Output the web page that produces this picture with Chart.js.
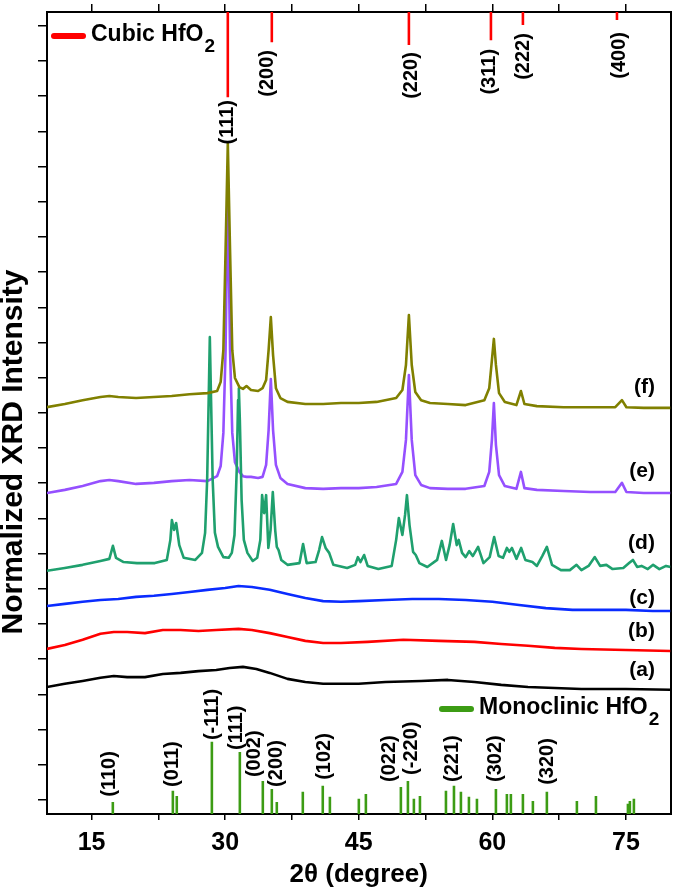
<!DOCTYPE html>
<html>
<head>
<meta charset="utf-8">
<script src="https://cdn.jsdelivr.net/npm/chart.js@4.4.1/dist/chart.umd.min.js"></script>
<style>
  html, body { margin: 0; padding: 0; background: #fff; }
  #wrap { width: 675px; height: 890px; position: relative; }
</style>
</head>
<body>
<div id="wrap"><canvas id="myChart"></canvas></div>
<script>
// 2-theta positions, intensities in tick units (normalized + offset)
var scanX_ef = [10,12,14,16,17,18,20,22,24,26, 28,29.1,29.5,29.8,30.05,30.3,30.55,30.8,31.1,31.6,
  32.0,32.4,32.9,33.7,34.2,34.6,34.88,35.13,35.38,35.7, 36.2,37,39,41,43,45,47,49.2,49.9,50.3,
  50.63,50.95,51.35,52.0,53,55,57,59.1,59.65,59.95, 60.17,60.4,60.75,61.4,62.7,63.21,63.6,65,68,71,
  73.8,74.55,75.05,77,80];
var intF = [11.16,11.25,11.36,11.45,11.48,11.45,11.42,11.45,11.48,11.53,
  11.56,11.62,11.88,12.78,15.63,18.66,15.63,12.78,11.99,11.73,
  11.68,11.76,11.65,11.62,11.70,11.93,12.78,13.72,12.64,11.70,
  11.42,11.31,11.25,11.25,11.28,11.28,11.31,11.42,11.65,12.36,
  13.78,12.36,11.59,11.36,11.28,11.25,11.22,11.36,11.70,12.50,
  13.10,12.36,11.56,11.31,11.22,11.62,11.25,11.19,11.16,11.16,
  11.16,11.36,11.16,11.14,11.14];
var intE = [8.72,8.81,8.92,9.06,9.09,9.06,8.98,9.01,9.06,9.09,
  9.06,9.20,9.49,10.43,12.78,17.56,12.78,10.43,9.60,9.32,
  9.20,9.18,9.18,9.15,9.18,9.52,10.51,11.96,10.51,9.52,
  9.15,8.98,8.86,8.84,8.86,8.86,8.89,8.98,9.32,10.23,
  12.07,10.23,9.23,8.95,8.86,8.84,8.84,8.92,9.32,10.23,
  11.28,10.09,9.23,8.92,8.84,9.32,8.86,8.81,8.78,8.75,
  8.75,9.01,8.75,8.72,8.72];

var scanX_d = [10,12,14,16,17.0,17.4,17.75,18.6,20.1,22.1,
  23.45,23.85,24.02,24.27,24.5,24.85,25.35,26.65,27.4,27.75,
  27.98,28.15,28.28,28.42,28.6,28.85,29.2,29.8,30.4,30.75,
  31.05,31.3,31.45,31.54,31.65,31.85,32.1,32.5,33.1,33.6,
  33.95,34.15,34.38,34.6,34.85,35.1,35.35,35.62,35.8,36.0,
  36.3,37.0,38.35,38.75,39.15,40.15,40.55,40.88,41.28,41.68,
  42.15,43.7,44.6,44.9,45.2,45.6,46.0,47.2,48.7,49.2,
  49.5,49.9,50.2,50.41,50.7,51.1,51.4,51.8,52.7,53.8,
  54.33,54.8,55.2,55.6,56.0,56.22,56.6,57.0,57.4,57.8,
  58.4,59.0,59.7,60.2,60.7,61.2,61.63,61.9,62.2,62.7,
  63.23,63.7,64.5,65.0,65.6,66.12,66.7,67.7,68.7,69.45,
  70.0,70.8,71.5,72.1,72.8,73.5,74.7,75.35,75.78,76.25,
  76.75,77.45,78.05,78.75,79.5,80];
var intD = [6.51,6.59,6.68,6.79,6.85,7.22,6.88,6.76,6.73,6.73,
  6.82,7.39,7.95,7.67,7.87,7.24,6.88,6.82,7.02,7.59,
  9.09,11.36,13.15,11.36,9.09,7.59,7.19,6.90,6.88,7.02,
  7.53,9.38,11.36,11.70,10.80,8.52,7.39,7.02,6.79,6.88,
  7.39,8.66,8.15,8.66,7.16,7.67,8.75,7.67,7.19,7.10,
  6.82,6.68,6.73,7.27,6.73,6.76,7.10,7.47,7.16,7.02,
  6.68,6.59,6.68,6.90,6.76,6.96,6.65,6.56,6.65,7.39,
  8.01,7.53,8.10,8.66,7.81,7.05,6.96,6.73,6.62,6.82,
  7.36,6.82,7.24,7.84,7.24,7.39,7.02,6.90,7.07,6.93,
  7.19,6.73,6.90,7.47,6.93,6.88,7.16,7.05,7.16,6.85,
  7.16,6.82,6.76,6.65,6.93,7.19,6.68,6.53,6.53,6.68,
  6.53,6.65,6.90,6.65,6.68,6.56,6.59,6.73,6.82,6.62,
  6.65,6.56,6.68,6.56,6.65,6.62];

var scanX_c = [10,12,14,16,18,20,22,24,26,28,30,31.5,33,35,37,39,41,43,45,48,51,54,57,60,63,66,69,72,75,78,80];
var intC = [5.51,5.57,5.63,5.68,5.71,5.77,5.80,5.85,5.91,5.97,6.02,6.08,6.05,5.97,5.85,5.74,5.65,5.63,5.65,5.68,5.71,5.71,5.68,5.63,5.54,5.45,5.40,5.40,5.40,5.37,5.37];

var scanX_b = [10,12,14,16,17.5,19,21,23,25,27,29,31.5,33,35,37,39,41,43,46,50,54,58,61,64,67,70,75,80];
var intB = [4.29,4.40,4.55,4.72,4.77,4.77,4.74,4.83,4.83,4.80,4.83,4.86,4.83,4.74,4.63,4.52,4.46,4.46,4.49,4.55,4.52,4.49,4.43,4.38,4.32,4.29,4.26,4.23];

var scanX_a = [10,12,14,16,17.5,19,21,23,25,27,29,30.5,32,33.5,35,37,39,41,43,45,48,52,55,58,61,64,67,70,75,80];
var intA = [3.21,3.30,3.38,3.47,3.52,3.49,3.49,3.58,3.61,3.66,3.69,3.75,3.78,3.72,3.61,3.44,3.35,3.30,3.30,3.30,3.35,3.38,3.41,3.35,3.27,3.21,3.18,3.15,3.15,3.13];

var sampleNames = ['(a)','(b)','(c)','(d)','(e)','(f)'];
var sampleLabelY = [3.69,4.80,5.74,7.30,9.35,11.73];

// reference patterns
var monoPos = [17.39,24.13,24.57,28.51,31.65,34.23,35.24,35.80,38.72,40.96,41.76,45.01,45.80,49.73,50.52,51.19,51.87,
  54.79,55.69,56.47,57.37,58.27,60.40,61.63,62.08,63.43,64.55,66.12,69.49,71.63,75.22,75.44,75.89];
var monoTop = [-0.06,0.26,0.11,1.65,1.36,0.54,0.31,-0.06,0.23,0.40,0.09,0.03,0.17,0.37,0.54,0.03,0.11,
  0.26,0.40,0.23,0.09,0.03,0.31,0.17,0.17,0.17,-0.03,0.23,-0.03,0.11,-0.11,-0.03,0.03];
var monoHkl = ['(110)','(011)','(-111)','(111)','(002)','(200)','(102)','(022)','(-220)','(221)','(302)','(320)'];
var monoHklX = [17.05,24.13,28.62,31.31,33.34,35.81,41.20,48.50,50.97,55.57,60.40,66.23];
var monoHklY = [0.09,0.37,1.70,1.42,0.65,0.37,0.57,0.51,0.71,0.51,0.51,0.43];

var cubicPos = [30.30,35.24,50.63,59.84,63.43,73.99];
var cubicEnd = [19.97,21.53,21.45,21.59,22.02,22.16];
var cubicHkl = ['(111)','(200)','(220)','(311)','(222)','(400)'];
var cubicHklX = [30.30,34.79,50.97,59.73,63.55,74.22];
var cubicHklY = [19.89,21.31,21.25,21.34,21.79,21.82];

var Y_MIN = -0.4, Y_MAX = 22.39;
var FONT = '"Liberation Sans", Arial, sans-serif';

function pts(xs, ys) {
  return xs.map(function (x, i) { return { x: x, y: ys[i] }; });
}
function sticks(pos, from, to) {
  var out = [];
  pos.forEach(function (p, i) {
    out.push({ x: p, y: Array.isArray(from) ? from[i] : from });
    out.push({ x: p, y: Array.isArray(to) ? to[i] : to });
    out.push({ x: p, y: null });
  });
  return out;
}
function trace(name, xs, ys, color, order) {
  return {
    label: name, data: pts(xs, ys), borderColor: color, borderWidth: 2.6,
    pointRadius: 0, tension: 0, fill: false, order: order, borderJoinStyle: 'round'
  };
}

var textPlugin = {
  id: 'xrdText',
  afterDatasetsDraw: function (chart) {
    var ctx = chart.ctx, x = chart.scales.x, y = chart.scales.y, area = chart.chartArea;
    ctx.save();
    ctx.fillStyle = '#000';

    // sample labels
    ctx.font = 'bold 21px ' + FONT;
    ctx.textAlign = 'right';
    ctx.textBaseline = 'middle';
    sampleNames.forEach(function (t, i) {
      ctx.fillText(t, x.getPixelForValue(78.25), y.getPixelForValue(sampleLabelY[i]));
    });

    // hkl labels (rotated)
    ctx.font = 'bold 20px ' + FONT;
    monoHkl.forEach(function (t, i) {
      ctx.save();
      ctx.translate(x.getPixelForValue(monoHklX[i]), y.getPixelForValue(monoHklY[i]));
      ctx.rotate(-Math.PI / 2);
      ctx.textAlign = 'left';
      ctx.fillText(t, 0, 0);
      ctx.restore();
    });
    cubicHkl.forEach(function (t, i) {
      ctx.save();
      ctx.translate(x.getPixelForValue(cubicHklX[i]), y.getPixelForValue(cubicHklY[i]));
      ctx.rotate(-Math.PI / 2);
      ctx.textAlign = 'right';
      ctx.fillText(t, 0, 0);
      ctx.restore();
    });

    // legends
    function legend(x0, yMid, color, text) {
      ctx.strokeStyle = color;
      ctx.lineWidth = 6;
      ctx.lineCap = 'round';
      ctx.beginPath();
      ctx.moveTo(x0, yMid + 1);
      ctx.lineTo(x0 + 29, yMid + 1);
      ctx.stroke();
      ctx.font = 'bold 23px ' + FONT;
      ctx.textAlign = 'left';
      ctx.fillText(text, x0 + 37, yMid);
      var w = ctx.measureText(text).width;
      ctx.font = 'bold 19px ' + FONT;
      ctx.fillText('2', x0 + 38 + w, yMid + 12);
    }
    legend(area.left + 7, area.top + 23, '#ff0000', 'Cubic HfO');
    legend(area.left + 395, area.bottom - 106, '#3c9c14', 'Monoclinic HfO');

    // axis titles
    ctx.font = 'bold 26px ' + FONT;
    ctx.textAlign = 'center';
    ctx.fillText('2\u03b8 (degree)', (area.left + area.right) / 2, 875);
    ctx.save();
    ctx.translate(14, 452);
    ctx.rotate(-Math.PI / 2);
    ctx.font = 'bold 30px ' + FONT;
    ctx.fillText('Normalized XRD Intensity', 0, 0);
    ctx.restore();

    ctx.restore();
  }
};

var ctx = document.getElementById('myChart');

var chart = new Chart(ctx, {
  type: 'line',
  data: {
    datasets: [
      trace('(f)', scanX_ef, intF, '#808000', 1),
      trace('(d)', scanX_d, intD, '#1fa06e', 2),
      trace('(e)', scanX_ef, intE, '#9550ff', 3),
      trace('(c)', scanX_c, intC, '#0a2cff', 4),
      trace('(b)', scanX_b, intB, '#ff0000', 5),
      trace('(a)', scanX_a, intA, '#000000', 6),
      {
        label: 'Monoclinic HfO2', data: sticks(monoPos, Y_MIN, monoTop), borderColor: '#3c9c14',
        borderWidth: 2.6, pointRadius: 0, spanGaps: false, order: 7, borderCapStyle: 'butt'
      },
      {
        label: 'Cubic HfO2', data: sticks(cubicPos, Y_MAX, cubicEnd), borderColor: '#ff0000',
        borderWidth: 2.6, pointRadius: 0, spanGaps: false, order: 0, borderCapStyle: 'butt'
      }
    ]
  },
  options: {
    responsive: true,
    maintainAspectRatio: false,
    animation: false,
    layout: { padding: 0 },
    plugins: {
      legend: { display: false },
      tooltip: { enabled: false }
    },
    scales: {
      x: {
        type: 'linear', position: 'bottom', min: 10, max: 80,
        ticks: {
          stepSize: 7.5, includeBounds: false, autoSkip: false, maxRotation: 0, padding: 8,
          color: '#000', font: { family: FONT, size: 25, weight: 'bold' },
          callback: function (v) { return v % 15 === 0 ? v : ''; }
        },
        grid: { drawOnChartArea: false, drawTicks: true, tickLength: 6, color: '#000', lineWidth: 1.5 },
        border: { color: '#000', width: 2 },
        afterFit: function (s) { s.height = 76; }
      },
      xTop: {
        type: 'linear', position: 'top', min: 10, max: 80,
        ticks: { stepSize: 7.5, includeBounds: false, display: false },
        grid: { drawOnChartArea: false, drawTicks: true, tickLength: 8, color: '#000', lineWidth: 1.5 },
        border: { color: '#000', width: 2 },
        afterFit: function (s) { s.height = 12; }
      },
      y: {
        position: 'left', min: Y_MIN, max: Y_MAX,
        ticks: { stepSize: 1, includeBounds: false, display: false },
        grid: { drawOnChartArea: false, drawTicks: true, tickLength: 9, color: '#000', lineWidth: 1.5 },
        border: { color: '#000', width: 2 },
        afterFit: function (s) { s.width = 47; }
      },
      yRight: {
        position: 'right', min: Y_MIN, max: Y_MAX,
        ticks: { display: false },
        grid: { display: false },
        border: { color: '#000', width: 2 },
        afterFit: function (s) { s.width = 4.5; }
      }
    }
  },
  plugins: [textPlugin]
});
</script>
</body>
</html>
